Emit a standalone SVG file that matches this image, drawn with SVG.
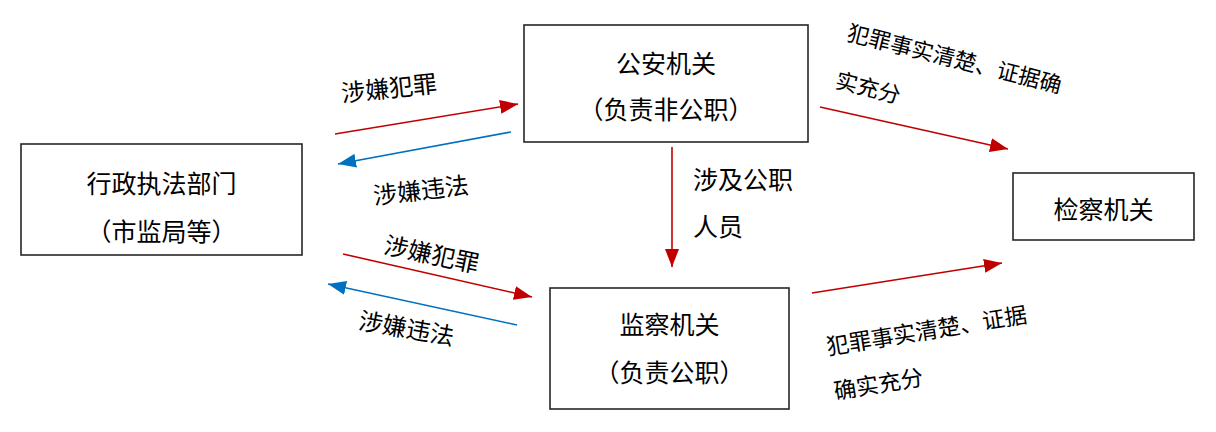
<svg xmlns="http://www.w3.org/2000/svg" width="1216" height="432" viewBox="0 0 1216 432">
<style>
.box{fill:#fff;stroke:#262626;stroke-width:1.6}
.t{font-family:"Noto Sans CJK SC","Noto Sans",sans-serif;font-size:25px;fill:#000}
.c{text-anchor:middle}
.l{font-size:24px}
.s{font-size:22px}
.s2{font-size:22.5px}
.red{stroke:#C00000;stroke-width:1.6;fill:none}
.blue{stroke:#0070C0;stroke-width:1.6;fill:none}
</style>
<defs>
<marker id="ar" markerUnits="userSpaceOnUse" markerWidth="18" markerHeight="14" refX="18" refY="7" orient="auto"><path d="M0,0 L18,7 L0,14 z" fill="#C00000"/></marker>
<marker id="ab" markerUnits="userSpaceOnUse" markerWidth="18" markerHeight="14" refX="18" refY="7" orient="auto"><path d="M0,0 L18,7 L0,14 z" fill="#0070C0"/></marker>
</defs>
<rect width="1216" height="432" fill="#fff"/>
<g id="xzzf">
<rect class="box" x="21" y="144" width="281" height="111"/>
<text class="t c" x="161.5" y="193">行政执法部门</text>
<text class="t c" x="161.5" y="241">（市监局等）</text>
</g>
<g id="gaj">
<rect class="box" x="524" y="25" width="284" height="117"/>
<text class="t c" x="666" y="73">公安机关</text>
<text class="t c" x="666" y="119">（负责非公职）</text>
</g>
<g id="jcj">
<rect class="box" x="550" y="288" width="239" height="121"/>
<text class="t c" x="669.5" y="334">监察机关</text>
<text class="t c" x="669.5" y="382">（负责公职）</text>
</g>
<g id="jcy">
<rect class="box" x="1013" y="173" width="181" height="67"/>
<text class="t c" x="1103.5" y="219">检察机关</text>
</g>
<g id="connectors">
<line class="red" x1="335" y1="134" x2="518" y2="104" marker-end="url(#ar)"/>
<line class="blue" x1="511" y1="132" x2="338" y2="164" marker-end="url(#ab)"/>
<line class="red" x1="343" y1="254" x2="532" y2="297" marker-end="url(#ar)"/>
<line class="blue" x1="517" y1="325" x2="328" y2="284" marker-end="url(#ab)"/>
<line class="red" x1="672" y1="147" x2="672" y2="267" marker-end="url(#ar)"/>
<line class="red" x1="820" y1="107" x2="1008" y2="149" marker-end="url(#ar)"/>
<line class="red" x1="812" y1="293" x2="1002" y2="263" marker-end="url(#ar)"/>
</g>
<g id="labels">
<text class="t l c" transform="translate(390,97) rotate(-6)">涉嫌犯罪</text>
<text class="t l c" transform="translate(422,199) rotate(-6.5)">涉嫌违法</text>
<text class="t l c" transform="translate(430,263) rotate(12)">涉嫌犯罪</text>
<text class="t l c" transform="translate(405,337) rotate(10)">涉嫌违法</text>
<text class="t" x="693" y="189">涉及公职</text>
<text class="t" x="693" y="236">人员</text>
<g transform="translate(846,40) rotate(14)">
<text class="t s" x="0" y="0">犯罪事实清楚、证据确</text>
<text class="t s" x="0" y="49">实充分</text>
</g>
<g transform="translate(828,355) rotate(-9.3)">
<text class="t s2" x="0" y="0">犯罪事实清楚、证据</text>
<text class="t s2" x="0" y="45">确实充分</text>
</g>
</g>
</svg>
